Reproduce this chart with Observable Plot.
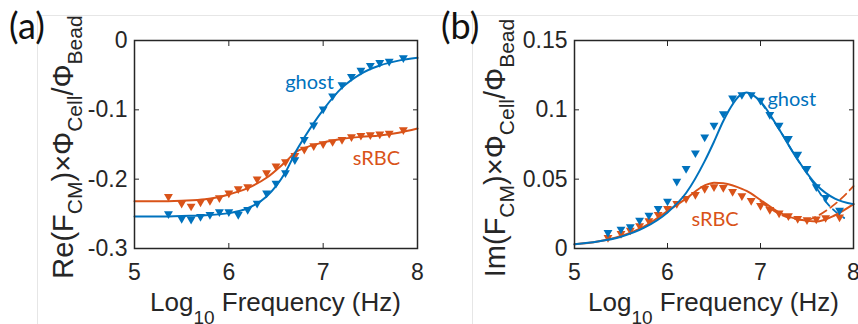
<!DOCTYPE html>
<html><head><meta charset="utf-8">
<script src="https://cdn.jsdelivr.net/npm/d3@7"></script>
<script src="https://cdn.jsdelivr.net/npm/@observablehq/plot@0.6"></script>
<style>
html,body{margin:0;padding:0;background:#fff;width:858px;height:324px;overflow:hidden}
#wrap{position:relative;width:858px;height:324px;overflow:hidden;background:#fff}
.panel{position:absolute;top:0}
.deco{position:absolute;border-top:1px solid #e6e6e6;border-left:1px solid #e6e6e6}
</style></head><body>
<div id="wrap">
  <div class="deco" style="left:37px;top:15px;width:821px;height:309px"></div>
  <div class="deco" style="left:472px;top:15px;width:386px;height:309px;border-top:none"></div>
  <div class="panel" id="pa" style="left:0"></div>
  <div class="panel" id="pb" style="left:430px"></div>
</div>
<script>
// ---------- data ----------
const xTicks = [5, 6, 7, 8];
const yTicksA = [-0.3, -0.2, -0.1, 0];
const yTicksB = [0, 0.05, 0.1, 0.15];

// measured points (log10 frequency)
const freqPts = [5.36,5.5,5.6,5.7,5.8,5.9,6.0,6.1,6.2,6.3,6.4,6.5,6.6,6.7,6.8,6.9,7.0,7.1,7.2,7.3,7.4,7.5,7.6,7.7,7.85];

// panel (a): Re part
const ghostReData = [-0.250,-0.257,-0.258,-0.254,-0.251,-0.247,-0.247,-0.251,-0.244,-0.235,-0.220,-0.206,-0.191,-0.172,-0.143,-0.122,-0.099,-0.080,-0.064,-0.052,-0.043,-0.036,-0.032,-0.030,-0.025];
const srbcReData  = [-0.225,-0.235,-0.239,-0.233,-0.231,-0.227,-0.220,-0.214,-0.211,-0.200,-0.191,-0.181,-0.175,-0.166,-0.157,-0.152,-0.149,-0.146,-0.143,-0.139,-0.137,-0.136,-0.135,-0.134,-0.129];
const fitFreqA = [5.0,5.25,5.5,5.75,6.0,6.2,6.4,6.6,6.72,6.8,7.0,7.2,7.4,7.6,7.8,8.0];
const ghostReFit = [-0.254,-0.254,-0.253,-0.252,-0.249,-0.242,-0.225,-0.190,-0.158,-0.140,-0.100,-0.068,-0.048,-0.036,-0.029,-0.025];
const srbcReFit  = [-0.232,-0.232,-0.231,-0.229,-0.222,-0.213,-0.198,-0.175,-0.160,-0.155,-0.147,-0.142,-0.139,-0.137,-0.133,-0.127];

// panel (b): Im part
const ghostImData = [0.0115,0.0139,0.0156,0.0204,0.024,0.0288,0.0341,0.0485,0.0576,0.0689,0.0804,0.0888,0.0972,0.1085,0.1109,0.1109,0.1068,0.0965,0.0888,0.0792,0.0679,0.0576,0.0444,0.0367,0.0275];
const srbcImData  = [0.0079,0.0108,0.0132,0.0163,0.0199,0.0245,0.0288,0.0324,0.036,0.0389,0.0432,0.0444,0.0439,0.041,0.038,0.0345,0.031,0.028,0.0255,0.0235,0.0215,0.0207,0.0212,0.0222,0.0226];
const fitFreqB = [5.0,5.25,5.5,5.75,6.0,6.2,6.4,6.5,6.6,6.8,6.85,7.0,7.2,7.4,7.6,7.8,8.0];
const ghostImFit = [0.003,0.005,0.0085,0.015,0.026,0.040,0.063,0.077,0.092,0.1115,0.1125,0.106,0.086,0.064,0.046,0.036,0.032];
const srbcImFit  = [0.003,0.005,0.009,0.016,0.027,0.036,0.0455,0.0475,0.047,0.043,0.0415,0.035,0.026,0.021,0.0195,0.024,0.032];
const dashFreqB = [7.0,7.2,7.4,7.5,7.6,7.7,7.8,7.9,8.0];
const ghostImDash = [0.106,0.086,0.064,0.054,0.044,0.034,0.027,0.022,null];
const srbcImDash  = [0.034,0.025,0.021,0.0205,0.023,0.027,0.032,0.038,0.045];

const BLUE = "#0072BD", ORANGE = "#D95319", AXC = "#262626";

const rows = (xs, ys) => xs.map((x, i) => ({x, y: ys[i]})).filter(d => d.y != null);
const fmt = d => String(d);

function panel({width, marginLeft, marginRight, yDomain, yTicks, series, dashed, labels}) {
  const marks = [
    Plot.axisX({ticks: xTicks, tickSize: 0, tickPadding: 15, tickFormat: fmt, label: null, fontSize: 23}),
    Plot.axisY({ticks: yTicks, tickSize: 0, tickPadding: 7, tickFormat: fmt, label: null, fontSize: 23}),
    Plot.axisX({ticks: xTicks, anchor: "bottom", tickSize: -5, text: null, label: null, stroke: AXC}),
    Plot.axisX({ticks: xTicks, anchor: "top", tickSize: -5, text: null, label: null, stroke: AXC}),
    Plot.axisY({ticks: yTicks, anchor: "left", tickSize: -5, text: null, label: null, stroke: AXC}),
    Plot.axisY({ticks: yTicks, anchor: "right", tickSize: -5, text: null, label: null, stroke: AXC})
  ];
  for (const d of (dashed || [])) {
    marks.push(Plot.line(rows(d.x, d.y), {x: "x", y: "y", stroke: d.color, strokeWidth: 1.8, strokeDasharray: "8,5", curve: "monotone-x"}));
  }
  for (const s of series) {
    marks.push(Plot.line(rows(s.fx, s.fy), {x: "x", y: "y", stroke: s.color, strokeWidth: 2, curve: "monotone-x"}));
    marks.push(Plot.dot(rows(s.px, s.py), {x: "x", y: "y", symbol: "triangle", r: 3.3, fill: s.color, stroke: null, rotate: 180}));
  }
  for (const l of labels) {
    marks.push(Plot.text([l.text], {x: l.x, y: l.y, text: d => d, fill: l.color, fontSize: 20, fontFamily: "Lato", textAnchor: "middle"}));
  }
  marks.push(Plot.frame({stroke: AXC, strokeWidth: 1.5}));
  return Plot.plot({
    width, height: 324, marginTop: 40, marginBottom: 76, marginLeft, marginRight,
    x: {domain: [5, 8]}, y: {domain: yDomain},
    style: {fontFamily: "Liberation Sans", fontSize: "23px", color: AXC, background: "transparent", overflow: "visible"},
    marks
  });
}

function addLabels(svgEl, {tag, ylabMain, xCenter, ylabX, ylabY, tagX}) {
  const svg = d3.select(svgEl);
  svg.append("text").attr("x", tagX).attr("y", 39).attr("text-anchor", "start")
    .attr("font-family", "Lato").attr("font-size", 36).attr("fill", "#111").text(tag);
  // x label
  const xt = svg.append("text").attr("x", xCenter).attr("y", 311).attr("text-anchor", "middle")
    .attr("font-family", "Liberation Sans").attr("font-size", 26).attr("fill", AXC);
  xt.append("tspan").text("Log");
  xt.append("tspan").attr("font-size", 19).attr("dy", 13).text("10");
  xt.append("tspan").attr("dy", -13).text(" Frequency (Hz)");
  // y label
  const yt = svg.append("text").attr("transform", `translate(${ylabX},${ylabY}) rotate(-90)`).attr("text-anchor", "middle")
    .attr("font-family", "Liberation Sans").attr("font-size", 29).attr("fill", AXC);
  const parts = [[ylabMain, 0], ["CM", 1], [")\u00d7\u03a6", 0], ["Cell", 1], ["/\u03a6", 0], ["Bead", 1]];
  let prev = 0;
  for (const [t, sub] of parts) {
    const sp = yt.append("tspan").text(t);
    const dy = (sub ? 9 : 0) - prev;
    if (dy) sp.attr("dy", dy);
    if (sub) sp.attr("font-size", 21);
    prev = sub ? 9 : 0;
  }
}

const chartA = panel({
  width: 430, marginLeft: 134, marginRight: 13, yDomain: [-0.3, 0], yTicks: yTicksA,
  series: [
    {fx: fitFreqA, fy: srbcReFit, px: freqPts, py: srbcReData, color: ORANGE},
    {fx: fitFreqA, fy: ghostReFit, px: freqPts, py: ghostReData, color: BLUE}
  ],
  labels: [
    {text: "ghost", x: 6.855, y: -0.060, color: BLUE},
    {text: "sRBC", x: 7.565, y: -0.170, color: ORANGE}
  ]
});
addLabels(chartA, {tag: "(a)", ylabMain: "Re(F", xCenter: 275.5, ylabX: 73, ylabY: 147, tagX: 9});
document.getElementById("pa").appendChild(chartA);

const chartB = panel({
  width: 428, marginLeft: 144, marginRight: 5, yDomain: [0, 0.15], yTicks: yTicksB,
  dashed: [
    {x: dashFreqB, y: ghostImDash, color: BLUE},
    {x: dashFreqB, y: srbcImDash, color: ORANGE}
  ],
  series: [
    {fx: fitFreqB, fy: srbcImFit, px: freqPts, py: srbcImData, color: ORANGE},
    {fx: fitFreqB, fy: ghostImFit, px: freqPts, py: ghostImData, color: BLUE}
  ],
  labels: [
    {text: "ghost", x: 7.336, y: 0.1075, color: BLUE},
    {text: "sRBC", x: 6.512, y: 0.0205, color: ORANGE}
  ]
});
addLabels(chartB, {tag: "(b)", ylabMain: "Im(F", xCenter: 283.5, ylabX: 75, ylabY: 148, tagX: 11});
document.getElementById("pb").appendChild(chartB);
</script>
</body></html>
